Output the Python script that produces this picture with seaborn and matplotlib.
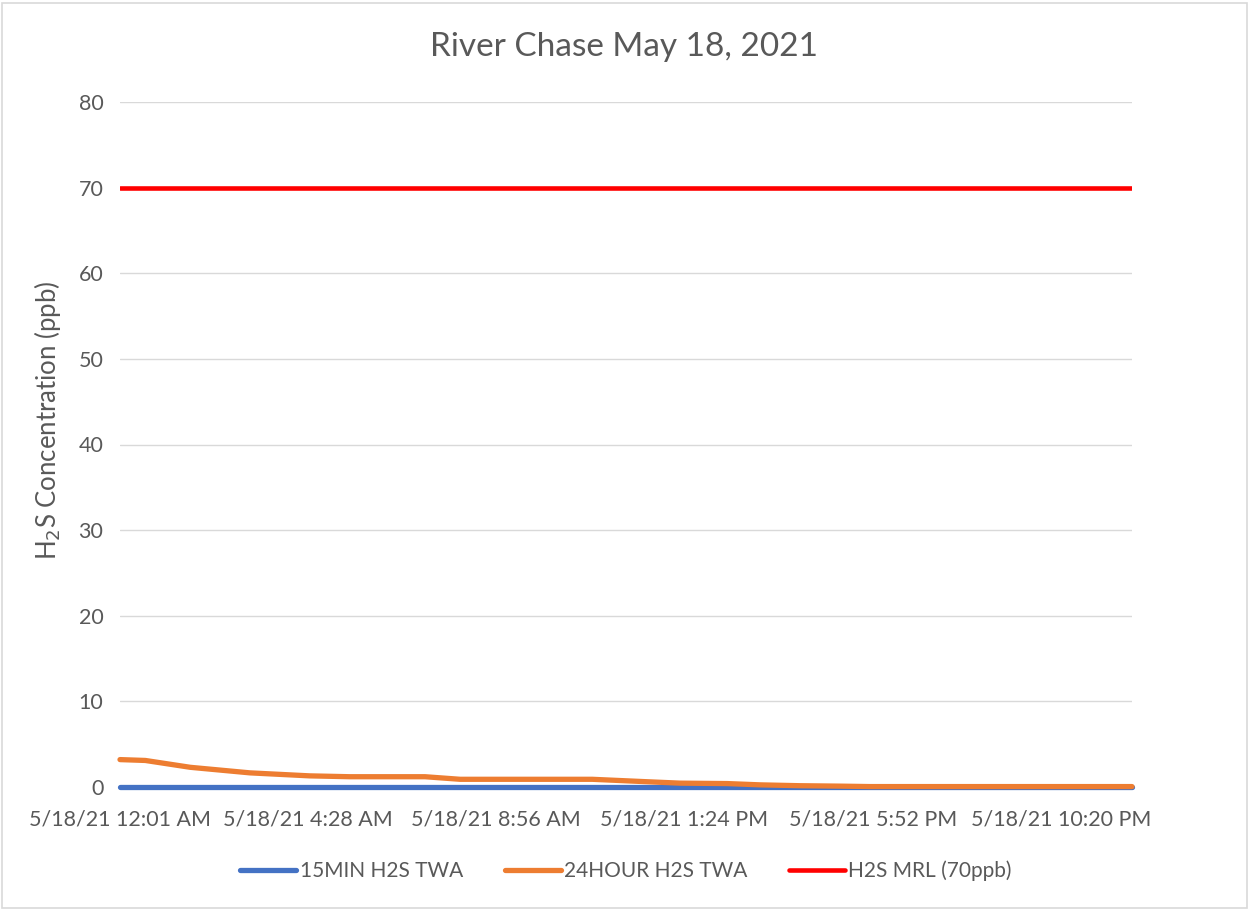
import matplotlib
matplotlib.use("Agg")
import matplotlib.pyplot as plt
import matplotlib.patches as mpatches
import seaborn as sns
import pandas as pd

# minutes after 5/18/21 12:01 AM
orange_t = [0, 36, 100, 185, 270, 327, 434, 484, 672, 754, 797, 864, 911, 968, 1025, 1067, 1200, 1440]
orange_v = [3.2, 3.1, 2.3, 1.65, 1.3, 1.2, 1.2, 0.9, 0.9, 0.6, 0.45, 0.4, 0.25, 0.15, 0.1, 0.05, 0.05, 0.05]
blue_t = [0, 240, 480, 720, 960, 1200, 1440]
blue_v = [0, 0, 0, 0, 0, 0, 0]
red_t = [0, 1440]
red_v = [70, 70]
tick_pos = [0, 267, 535, 803, 1071, 1339]
tick_labels = ["5/18/21 12:01 AM", "5/18/21 4:28 AM", "5/18/21 8:56 AM",
               "5/18/21 1:24 PM", "5/18/21 5:52 PM", "5/18/21 10:20 PM"]
y_ticks = [0, 10, 20, 30, 40, 50, 60, 70, 80]

sns.set_theme(style="white")
plt.rcParams['font.family'] = ['Lato', 'DejaVu Sans']
gray = "#595959"

fig = plt.figure(figsize=(12.49, 9.09), dpi=100)
ax = fig.add_axes([120/1249, 1-787/909, (1132-120)/1249, (787-102)/909])

df_b = pd.DataFrame({"t": blue_t, "v": blue_v})
df_o = pd.DataFrame({"t": orange_t, "v": orange_v})
df_r = pd.DataFrame({"t": red_t, "v": red_v})
sns.lineplot(data=df_b, x="t", y="v", ax=ax, color="#4472C4", lw=3.8, label="15MIN H2S TWA", zorder=3, clip_on=False)
sns.lineplot(data=df_o, x="t", y="v", ax=ax, color="#ED7D31", lw=3.8, label="24HOUR H2S TWA", zorder=4, clip_on=False)
sns.lineplot(data=df_r, x="t", y="v", ax=ax, color="#FF0000", lw=3.3, label="H2S MRL (70ppb)", zorder=4)

ax.set_xlim(0, 1440)
ax.set_ylim(0, 80)
ax.set_yticks(y_ticks)
ax.set_yticklabels([str(v) for v in y_ticks])
ax.set_xticks(tick_pos)
ax.set_xticklabels(tick_labels)
ax.tick_params(axis='both', colors=gray, labelsize=15.5, length=0)
ax.tick_params(axis='x', pad=16)
ax.tick_params(axis='y', pad=12)
ax.grid(axis='y', color="#D9D9D9", lw=1)
ax.set_axisbelow(True)
for s in ["top", "right", "left"]:
    ax.spines[s].set_visible(False)
ax.spines["bottom"].set_color("#D9D9D9")
ax.set_xlabel("")
ax.set_ylabel("H$_2$S Concentration (ppb)", color=gray, fontsize=18.5)
ax.yaxis.set_label_coords((48 - 120) / 1012, (787 - 420) / 685)
ax.yaxis.label.set_va('center')
fig.suptitle("River Chase May 18, 2021", color=gray, fontsize=24, y=1-47/909, va='center')

leg = ax.legend(loc='center', bbox_to_anchor=(0.5, (787-871)/(787-102)), ncol=3, frameon=False,
                fontsize=15, handlelength=2.7, handletextpad=0.15, columnspacing=2.0)
for t in leg.get_texts():
    t.set_color(gray)

border = mpatches.Rectangle((1.5/1249, 1.5/909), 1245/1249, 905/909, transform=fig.transFigure,
                            fill=False, edgecolor="#D9D9D9", lw=1.2)
fig.patches.append(border)

fig.savefig("out.png", dpi=100, facecolor="white")
